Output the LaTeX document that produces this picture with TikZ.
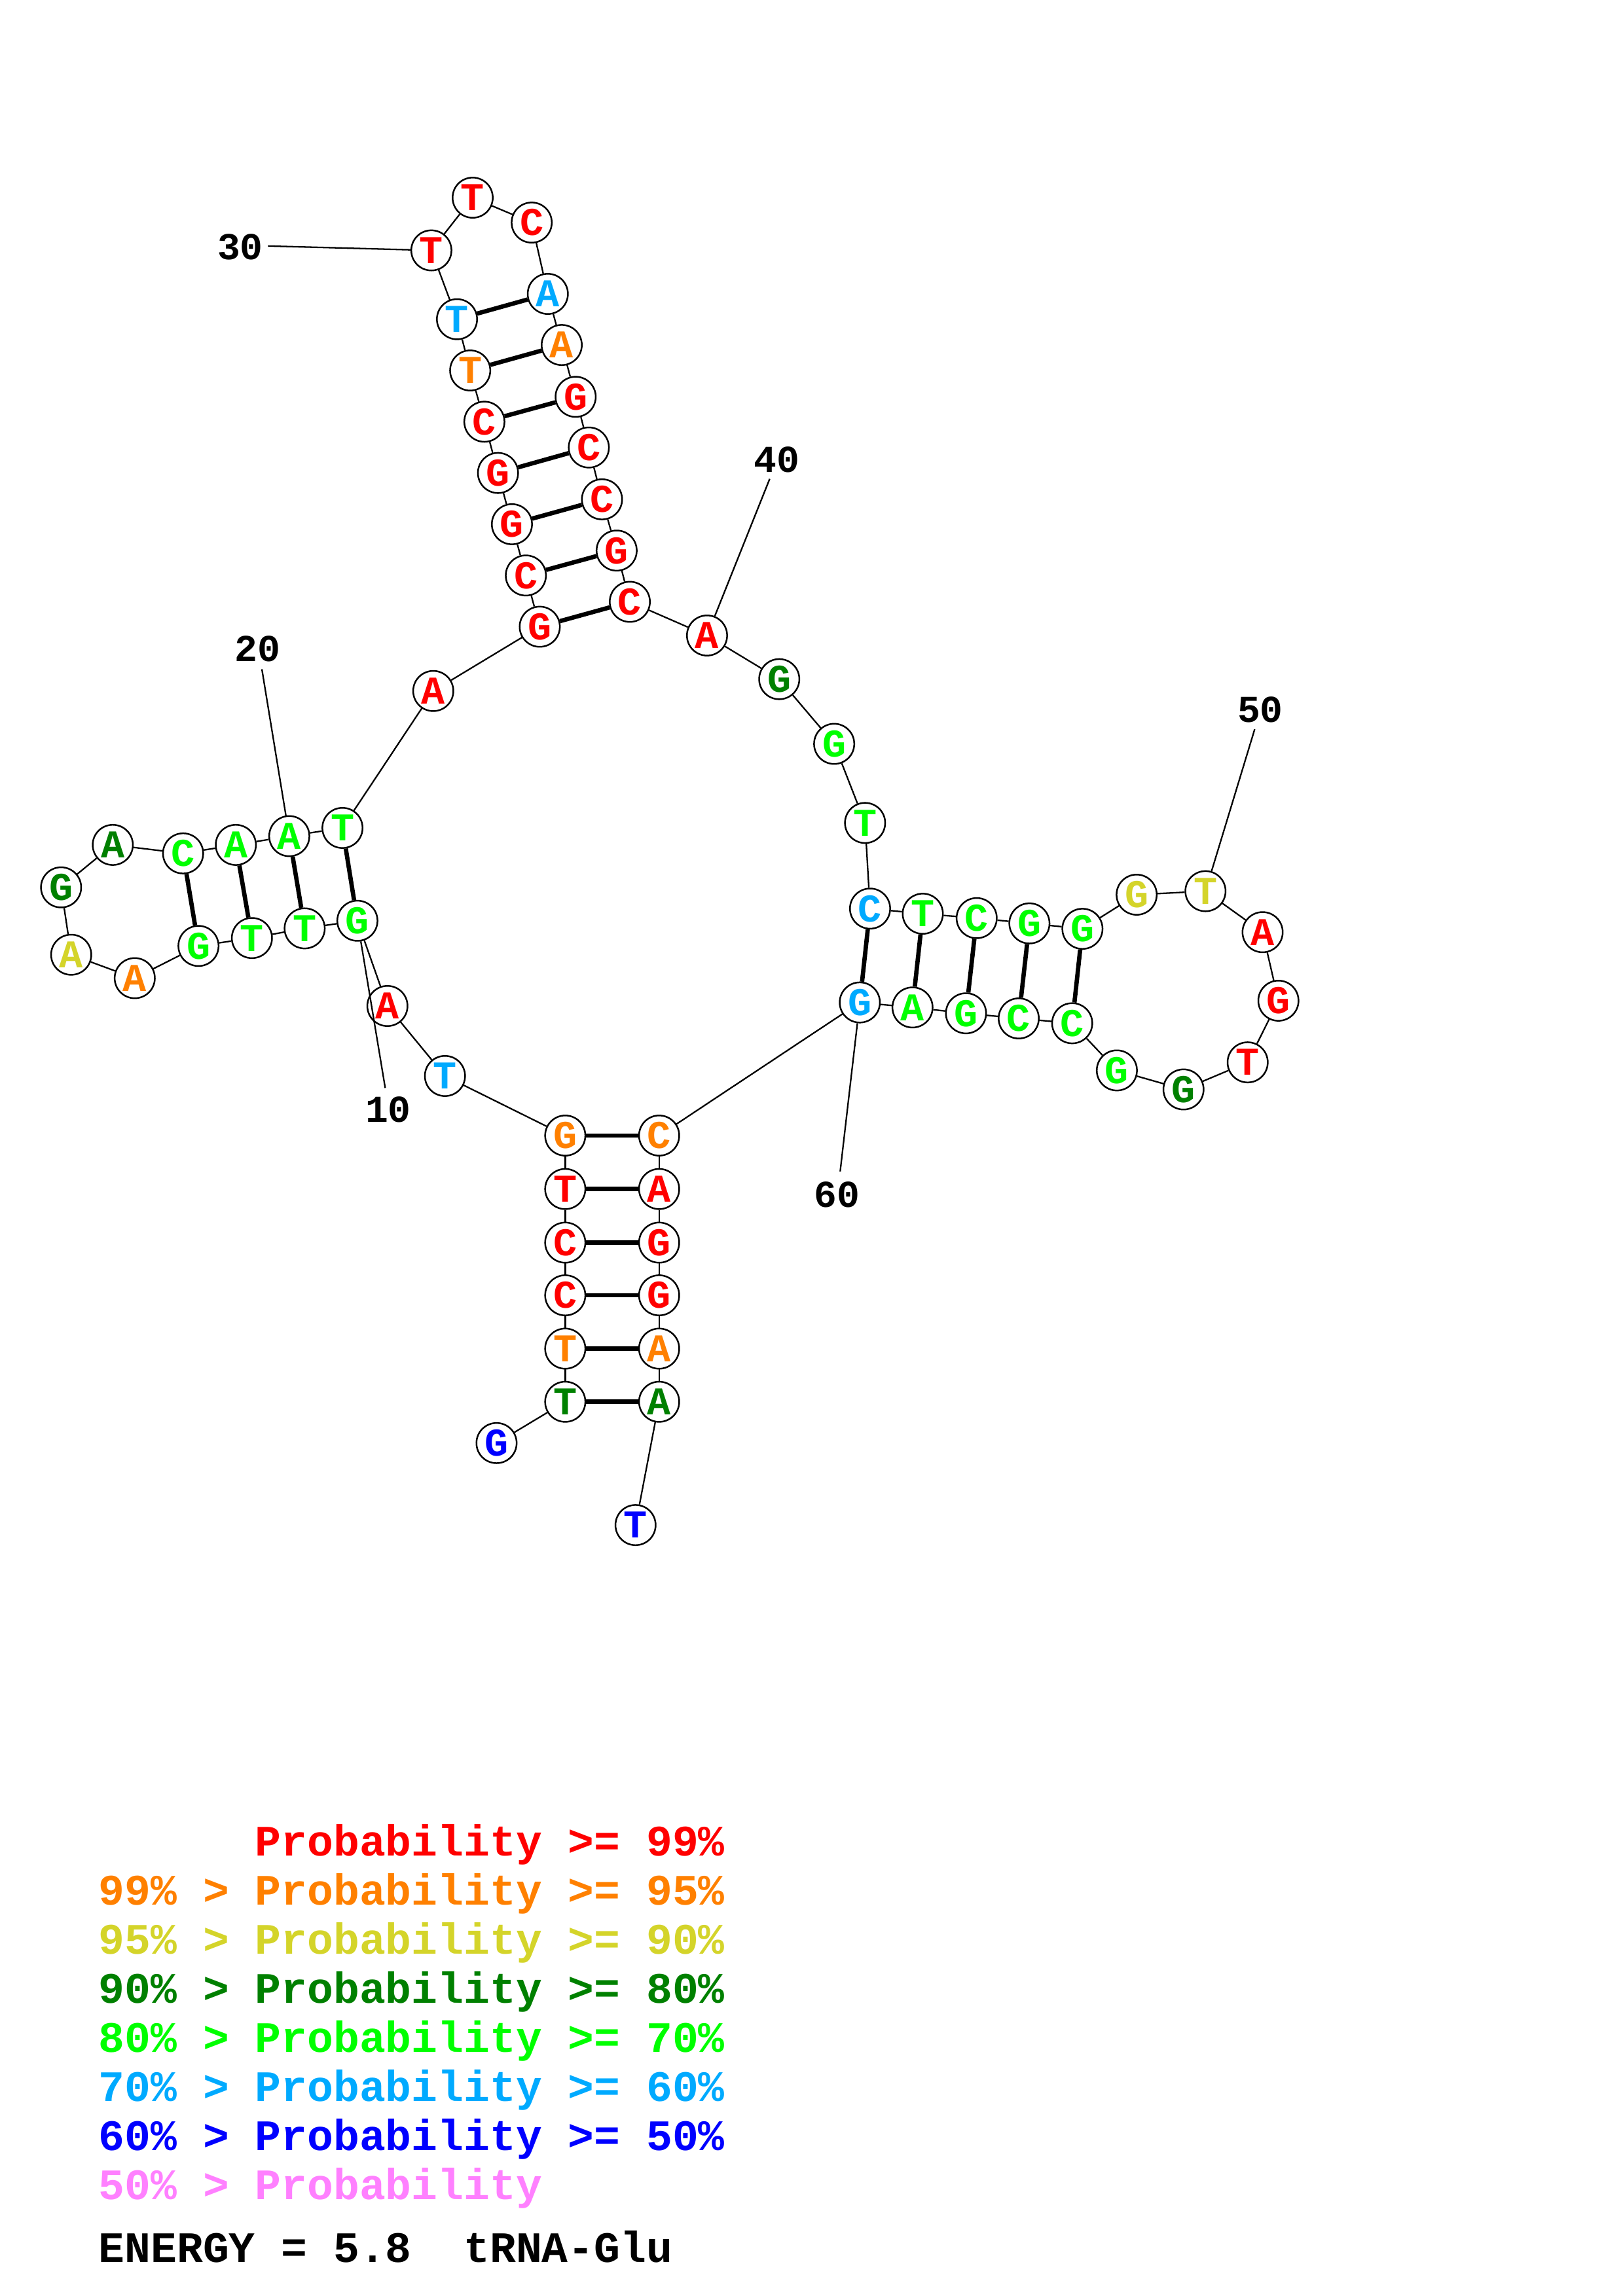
\documentclass[tikz,border=0pt]{standalone}
\usepackage{fontspec}
\newfontfamily\monofam{Liberation Mono}
\definecolor{pr99}{RGB}{255,0,0}
\definecolor{pr95}{RGB}{255,128,0}
\definecolor{pr90}{RGB}{212,212,42}
\definecolor{pr80}{RGB}{0,128,0}
\definecolor{pr70}{RGB}{0,255,0}
\definecolor{pr60}{RGB}{0,170,255}
\definecolor{pr50}{RGB}{0,0,255}
\definecolor{prlow}{RGB}{255,128,255}
\tikzset{
  nuc/.style={circle, draw, line width=0.6pt, fill=white, inner sep=0pt,
    minimum size=0.52cm, font=\monofam\bfseries\fontsize{14.5}{16}\selectfont},
  bb/.style={line width=0.55pt},
  bond/.style={line width=1.6pt},
  num/.style={inner sep=0pt, font=\monofam\bfseries\fontsize{14}{16}\selectfont},
  legend/.style={anchor=base west, inner sep=0pt,
    font=\monofam\bfseries\fontsize{16}{18}\selectfont}
}
\begin{document}
\begin{tikzpicture}[x=0.018953cm, y=-0.018953cm]
  \useasboundingbox (0,0) rectangle (1108,1568);
  % nucleotides
  \foreach \i/\b/\x/\y/\c in {
    1/G/339/985.5/pr50, 2/T/385.9/957.3/pr80, 3/T/385.9/921/pr95,
    4/C/385.9/884.6/pr99, 5/C/385.9/848.6/pr99, 6/T/385.9/812/pr99,
    7/G/385.9/775.5/pr95, 8/T/303.8/734.8/pr60, 9/A/264.5/687/pr99,
    10/G/244/628.8/pr70, 11/T/208/634/pr70, 12/T/172/640.6/pr70,
    13/G/135.5/646/pr70, 14/A/92/668/pr95, 15/A/48.6/652/pr90,
    16/G/41.7/606/pr80, 17/A/77/577/pr80, 18/C/125/582.8/pr70,
    19/A/161/577/pr70, 20/A/197.5/571/pr70, 21/T/233.8/565.4/pr70,
    22/A/295.8/471.9/pr99, 23/G/368.5/428/pr99, 24/C/359/393/pr99,
    25/G/349.5/358/pr99, 26/G/340/323/pr99, 27/C/330.7/288/pr99,
    28/T/321/253/pr95, 29/T/312/218/pr60, 30/T/294.5/171/pr99,
    31/T/322.7/135/pr99, 32/C/363/152/pr99, 33/A/374/200.7/pr60,
    34/A/383.5/235.6/pr95, 35/G/393/271/pr99, 36/C/402/305.6/pr99,
    37/C/411/341/pr99, 38/G/421/376/pr99, 39/C/430/411/pr99,
    40/A/482.7/434/pr99, 41/G/532/463.8/pr80, 42/G/569.5/508/pr70,
    43/T/590.6/562/pr70, 44/C/594/620.5/pr60, 45/T/630/624/pr70,
    46/C/666.8/627/pr70, 47/G/702.8/630.6/pr70, 48/G/739/634.3/pr70,
    49/G/776/611/pr90, 50/T/823/608.6/pr90, 51/A/862/636.6/pr99,
    52/G/872.8/683.4/pr99, 53/T/851.8/725.5/pr99, 54/G/808/744/pr80,
    55/G/762.5/731/pr70, 56/C/732/698.8/pr70, 57/C/695.5/695.5/pr70,
    58/G/659.5/692/pr70, 59/A/623/688/pr70, 60/G/587/684.6/pr60,
    61/C/450/775.5/pr95, 62/A/450/812/pr99, 63/G/450/848.6/pr99,
    64/G/450/884.6/pr99, 65/A/450/921/pr95, 66/A/450/957.3/pr80,
    67/T/433.9/1041.5/pr50}
    \node[nuc, text=\c] (n\i) at (\x,\y) {\b};
  % backbone
  \foreach \i [evaluate=\i as \j using int(\i+1)] in {1,...,66}
    \draw[bb] (n\i) -- (n\j);
  % base pairs
  \foreach \a/\b in {2/66, 3/65, 4/64, 5/63, 6/62, 7/61,
    10/21, 11/20, 12/19, 13/18,
    23/39, 24/38, 25/37, 26/36, 27/35, 28/34, 29/33,
    44/60, 45/59, 46/58, 47/57, 48/56}
    \draw[bond] (n\a) -- (n\b);
  % position numbers
  \node[num] (lab10) at (265,758) {10};
  \node[num] (lab20) at (175.8,443) {20};
  \node[num] (lab30) at (164,168.7) {30};
  \node[num] (lab40) at (530.4,314) {40};
  \node[num] (lab50) at (860.4,484.5) {50};
  \node[num] (lab60) at (571.6,815.7) {60};
  \coordinate (t10) at (263,743);
  \coordinate (t20) at (178.8,457);
  \coordinate (t30) at (183,168);
  \coordinate (t40) at (525.5,327);
  \coordinate (t50) at (856.6,498);
  \coordinate (t60) at (573.6,800);
  \foreach \k in {10,20,30,40,50,60}
    \draw[bb] (t\k) -- (n\k);
  % legend
  \node[legend, text=pr99] (key99) at (67,1267.6) {\phantom{99\% > }Probability >= 99\%};
  \node[legend, text=pr95] (key95) at (67,1301.1) {99\% > Probability >= 95\%};
  \node[legend, text=pr90] (key90) at (67,1334.6) {95\% > Probability >= 90\%};
  \node[legend, text=pr80] (key80) at (67,1368.1) {90\% > Probability >= 80\%};
  \node[legend, text=pr70] (key70) at (67,1401.6) {80\% > Probability >= 70\%};
  \node[legend, text=pr60] (key60) at (67,1435.1) {70\% > Probability >= 60\%};
  \node[legend, text=pr50] (key50) at (67,1468.6) {60\% > Probability >= 50\%};
  \node[legend, text=prlow] (keylow) at (67,1502.1) {50\% > Probability};
  \node[legend] (energy) at (67,1545) {ENERGY = 5.8\ \ tRNA-Glu};
\end{tikzpicture}
\end{document}
